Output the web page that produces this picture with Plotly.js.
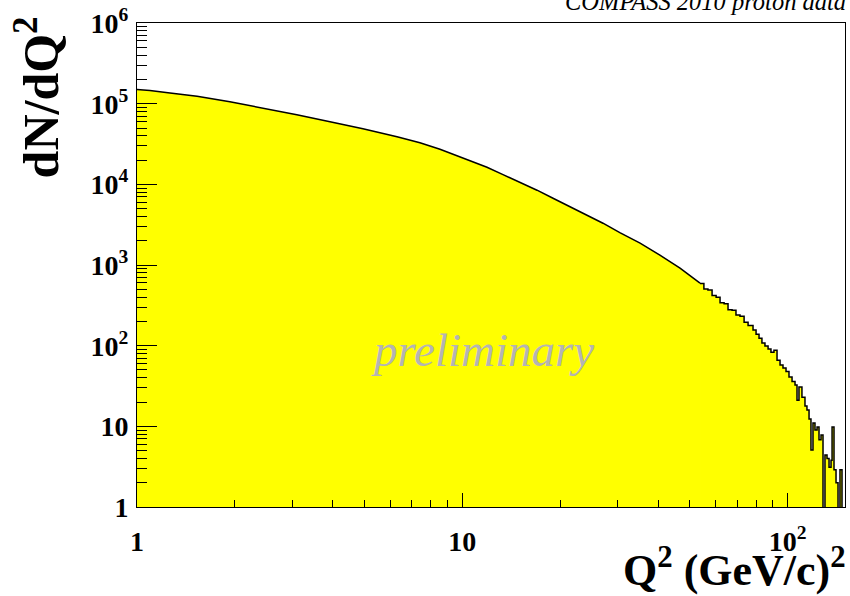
<!DOCTYPE html>
<html>
<head>
<meta charset="utf-8">
<script src="https://cdn.plot.ly/plotly-3.0.1.min.js"></script>
<style>
  html, body { margin: 0; padding: 0; background: #ffffff; }
  #chart { width: 850px; height: 596px; }
</style>
</head>
<body>
<div id="chart"></div>
<script>
// Q^2 spectrum, smooth low-Q^2 part: Q^2 (GeV/c)^2 and dN/dQ^2
const smoothQ2 = [1.00, 1.096, 1.263, 1.53, 1.93, 2.44, 3.10, 3.92, 4.95, 6.30, 7.41, 8.54,
                  9.36, 10.56, 11.91, 13.34, 15.04, 16.97, 19.01, 21.44, 24.17, 27.07,
                  30.5, 35.2, 40.5, 46.7, 53.8];
const smoothN  = [150000, 146000, 136000, 124000, 105900, 88500, 73100, 59800, 49000, 39000, 32900, 27300,
                  23700, 19700, 16300, 13200, 10650, 8470, 6740, 5290, 4210, 3300,
                  2520, 1870, 1330, 916, 597];

// high-Q^2 tail, histogram bins: lower edges (plus final upper edge) and contents
const tailEdges = [53.8, 55.3, 56.9, 58.6, 60.3, 62.0, 63.8, 65.6, 67.5, 69.4, 71.4, 73.5, 75.6,
                   78.3, 80.0, 81.7, 83.4, 85.2, 87.1, 88.9, 90.8, 92.8, 94.8, 96.8, 98.9,
                   101.0, 103.2, 105.4, 106.9, 108.4, 110.7, 113.1, 114.7, 116.4, 118.0, 119.7,
                   121.4, 123.2, 124.9, 126.7, 128.5, 130.3, 132.2, 134.1, 136.0, 137.0, 138.9,
                   140.9, 142.9, 144.9, 147.0, 148.0];
const tailN = [590, 505, 490, 418, 400, 340, 332, 280, 275, 240, 232, 195, 178,
               156, 139, 124, 108, 99, 91, 83, 88, 66, 57.5, 53, 48,
               41, 36, 32.5, 21, 30.7, 23, 17.9, 15.9, 12.3, 5.1, 11,
               9.0, 9.8, 6.8, 7.8, 0, 4.4, 4.0, 3.1, 3.8, 9.8, 2.9,
               2.0, 0, 2.9, 0];

// decade ticks
const yTickVals = [1, 10, 100, 1000, 10000, 100000, 1000000];
const yTickText = ['1', '10', '10<sup>2</sup>', '10<sup>3</sup>', '10<sup>4</sup>', '10<sup>5</sup>', '10<sup>6</sup>'];
const xTickVals = [1, 10, 100];
const xTickText = ['1', '10', '10<sup>2</sup>'];

const xRangeLog = [0, 2.1765];
const yRangeLog = [0, 6.001];

// empty bins are drawn down to below the frame, as a histogram would
const FLOOR = 1e-3;
const tailX = tailEdges.slice();
const tailY = tailN.map(v => (v > 0 ? v : FLOOR));
tailY.push(tailY[tailY.length - 1]);

const fillYellow = '#ffff00';
const serif = 'Liberation Serif, Times New Roman, serif';

const traces = [
  {
    x: smoothQ2, y: smoothN, type: 'scatter', mode: 'lines',
    line: { color: '#000000', width: 1.5, shape: 'linear' },
    fill: 'tozeroy', fillcolor: fillYellow, hoverinfo: 'skip'
  },
  {
    x: tailX, y: tailY, type: 'scatter', mode: 'lines',
    line: { color: '#000000', width: 1.5, shape: 'hv' },
    fill: 'tozeroy', fillcolor: fillYellow, hoverinfo: 'skip'
  }
];

const axisCommon = {
  type: 'log', showgrid: false, zeroline: false,
  showline: true, linecolor: '#000000', linewidth: 1, mirror: true,
  ticks: 'inside', tickcolor: '#000000', tickwidth: 1,
  tickmode: 'array',
  tickfont: { family: serif, size: 28, color: '#000000', weight: 'bold' }
};

const layout = {
  width: 850, height: 596,
  margin: { l: 137, r: 5, t: 23, b: 89, pad: 0 },
  paper_bgcolor: '#ffffff', plot_bgcolor: '#ffffff',
  showlegend: false,
  xaxis: Object.assign({}, axisCommon, {
    range: xRangeLog, tickvals: xTickVals, ticktext: xTickText,
    ticklen: 14, ticklabelstandoff: 9,
    minor: { ticks: 'inside', ticklen: 7, tickcolor: '#000000', tickwidth: 1, dtick: 'D1', showgrid: false }
  }),
  yaxis: Object.assign({}, axisCommon, {
    range: yRangeLog, tickvals: yTickVals, ticktext: yTickText,
    ticklen: 20, ticklabelstandoff: 2,
    minor: { ticks: 'inside', ticklen: 10, tickcolor: '#000000', tickwidth: 1, dtick: 'D1', showgrid: false }
  }),
  annotations: [
    {
      text: 'COMPASS 2010 proton data', xref: 'paper', yref: 'paper',
      x: 1.004, y: 1 + 6 / 484, xanchor: 'right', yanchor: 'bottom', showarrow: false,
      font: { family: serif, size: 24.5, color: '#000000', style: 'italic' }
    },
    {
      text: 'preliminary', xref: 'paper', yref: 'paper',
      x: 0.4873, y: 0.324, xanchor: 'center', yanchor: 'middle', showarrow: false,
      font: { family: serif, size: 47, color: '#b4b4b4', style: 'italic' }
    },
    {
      text: 'dN/dQ<sup>2</sup>', xref: 'paper', yref: 'paper',
      x: -0.140, y: 0.846, xanchor: 'center', yanchor: 'middle', textangle: -90, showarrow: false,
      font: { family: serif, size: 50, color: '#000000', weight: 'bold' }
    },
    {
      text: 'Q<sup>2</sup> (GeV/c)<sup>2</sup>', xref: 'paper', yref: 'paper',
      x: 1.004, y: -0.126, xanchor: 'right', yanchor: 'middle', showarrow: false,
      font: { family: serif, size: 44, color: '#000000', weight: 'bold' }
    }
  ]
};

Plotly.newPlot('chart', traces, layout, { staticPlot: true, displayModeBar: false });
</script>
</body>
</html>
